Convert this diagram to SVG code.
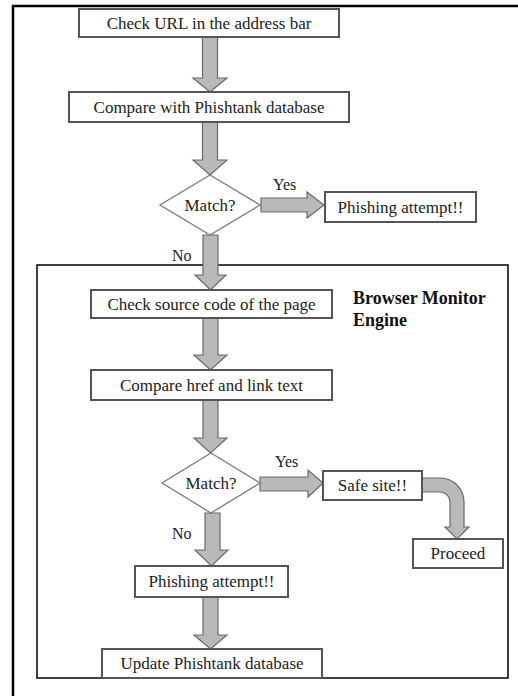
<svg xmlns="http://www.w3.org/2000/svg" width="518" height="696" viewBox="0 0 518 696">
<style>
  .box { fill: #ffffff; stroke: #555555; stroke-width: 2; }
  .dia { fill: #ffffff; stroke: #7a7a7a; stroke-width: 1.3; }
  .arr { fill: #b9b9b9; stroke: #6a6a6a; stroke-width: 1.2; stroke-linejoin: miter; }
  .t { font-family: "Liberation Serif", "Times New Roman", serif; font-size: 17px; fill: #222222; text-anchor: middle; }
  .lbl { font-family: "Liberation Serif", "Times New Roman", serif; font-size: 16px; fill: #222222; }
  .title { font-family: "Liberation Serif", "Times New Roman", serif; font-size: 18px; font-weight: bold; fill: #111111; }
</style>
<rect x="0" y="0" width="518" height="696" fill="#ffffff"/>
<g id="outer-frame">
  <path d="M13,696 V6 H518" fill="none" stroke="#000000" stroke-width="2.5"/>
</g>
<g id="browser-monitor-engine">
  <rect x="37" y="265" width="471" height="413" fill="none" stroke="#111111" stroke-width="1.6"/>
  <text class="title" x="353" y="304">Browser Monitor</text>
  <text class="title" x="353" y="326">Engine</text>
</g>
<g id="connectors">
  <polygon class="arr" points="202.5,37 217.5,37 217.5,78 227,78 210,92 193,78 202.5,78"/>
  <polygon class="arr" points="202.5,122 217.5,122 217.5,160 227,160 210,175 193,160 202.5,160"/>
  <polygon class="arr" points="261,198 307,198 307,192 324,205 307,218 307,212 261,212"/>
  <polygon class="arr" points="203,235 218,235 218,275 226,275 210.5,290 195,275 203,275"/>
  <polygon class="arr" points="203,318 218,318 218,355 227,355 210.5,370 194,355 203,355"/>
  <polygon class="arr" points="203,400 218,400 218,438 227,438 210.5,453 194,438 203,438"/>
  <polygon class="arr" points="260,477 308,477 308,470 323,483 308,497 308,491 260,491"/>
  <polygon class="arr" points="205,513 220,513 220,550 228,550 211.5,566 195,550 205,550"/>
  <polygon class="arr" points="203,597 218,597 218,635 227,635 210.5,649 194,635 203,635"/>
  <path class="arr" d="M422,478 H440 A24,24 0 0 1 464,502 V527 H469 L457,539 L445,527 H450 V502 A10,10 0 0 0 440,492 H422 Z"/>
  <text class="lbl" x="273" y="190">Yes</text>
  <text class="lbl" x="172" y="261">No</text>
  <text class="lbl" x="275" y="467">Yes</text>
  <text class="lbl" x="172" y="539">No</text>
</g>
<g id="check-url">
  <rect class="box" x="79" y="9" width="260" height="28"/>
  <text class="t" x="209" y="29">Check URL in the address bar</text>
</g>
<g id="compare-phishtank">
  <rect class="box" x="69" y="92" width="280" height="30"/>
  <text class="t" x="209" y="113">Compare with Phishtank database</text>
</g>
<g id="match-1">
  <polygon class="dia" points="210,175 260,205 210,235 160,205"/>
  <text class="t" x="210" y="211">Match?</text>
</g>
<g id="phishing-attempt-1">
  <rect class="box" x="325" y="192" width="151" height="30"/>
  <text class="t" x="400.5" y="213">Phishing attempt!!</text>
</g>
<g id="check-source">
  <rect class="box" x="91" y="290" width="241" height="28"/>
  <text class="t" x="211.5" y="310">Check source code of the page</text>
</g>
<g id="compare-href">
  <rect class="box" x="91" y="370" width="241" height="30"/>
  <text class="t" x="211.5" y="391">Compare href and link text</text>
</g>
<g id="match-2">
  <polygon class="dia" points="211,453 260,483 211,513 162,483"/>
  <text class="t" x="211" y="489">Match?</text>
</g>
<g id="safe-site">
  <rect class="box" x="323" y="471" width="99" height="29"/>
  <text class="t" x="372.5" y="491">Safe site!!</text>
</g>
<g id="proceed">
  <rect class="box" x="413" y="539" width="90" height="29"/>
  <text class="t" x="458" y="559">Proceed</text>
</g>
<g id="phishing-attempt-2">
  <rect class="box" x="135" y="566" width="153" height="31"/>
  <text class="t" x="211.5" y="587">Phishing attempt!!</text>
</g>
<g id="update-phishtank">
  <rect class="box" x="102" y="649" width="220" height="29"/>
  <text class="t" x="212" y="669">Update Phishtank database</text>
</g>
</svg>
